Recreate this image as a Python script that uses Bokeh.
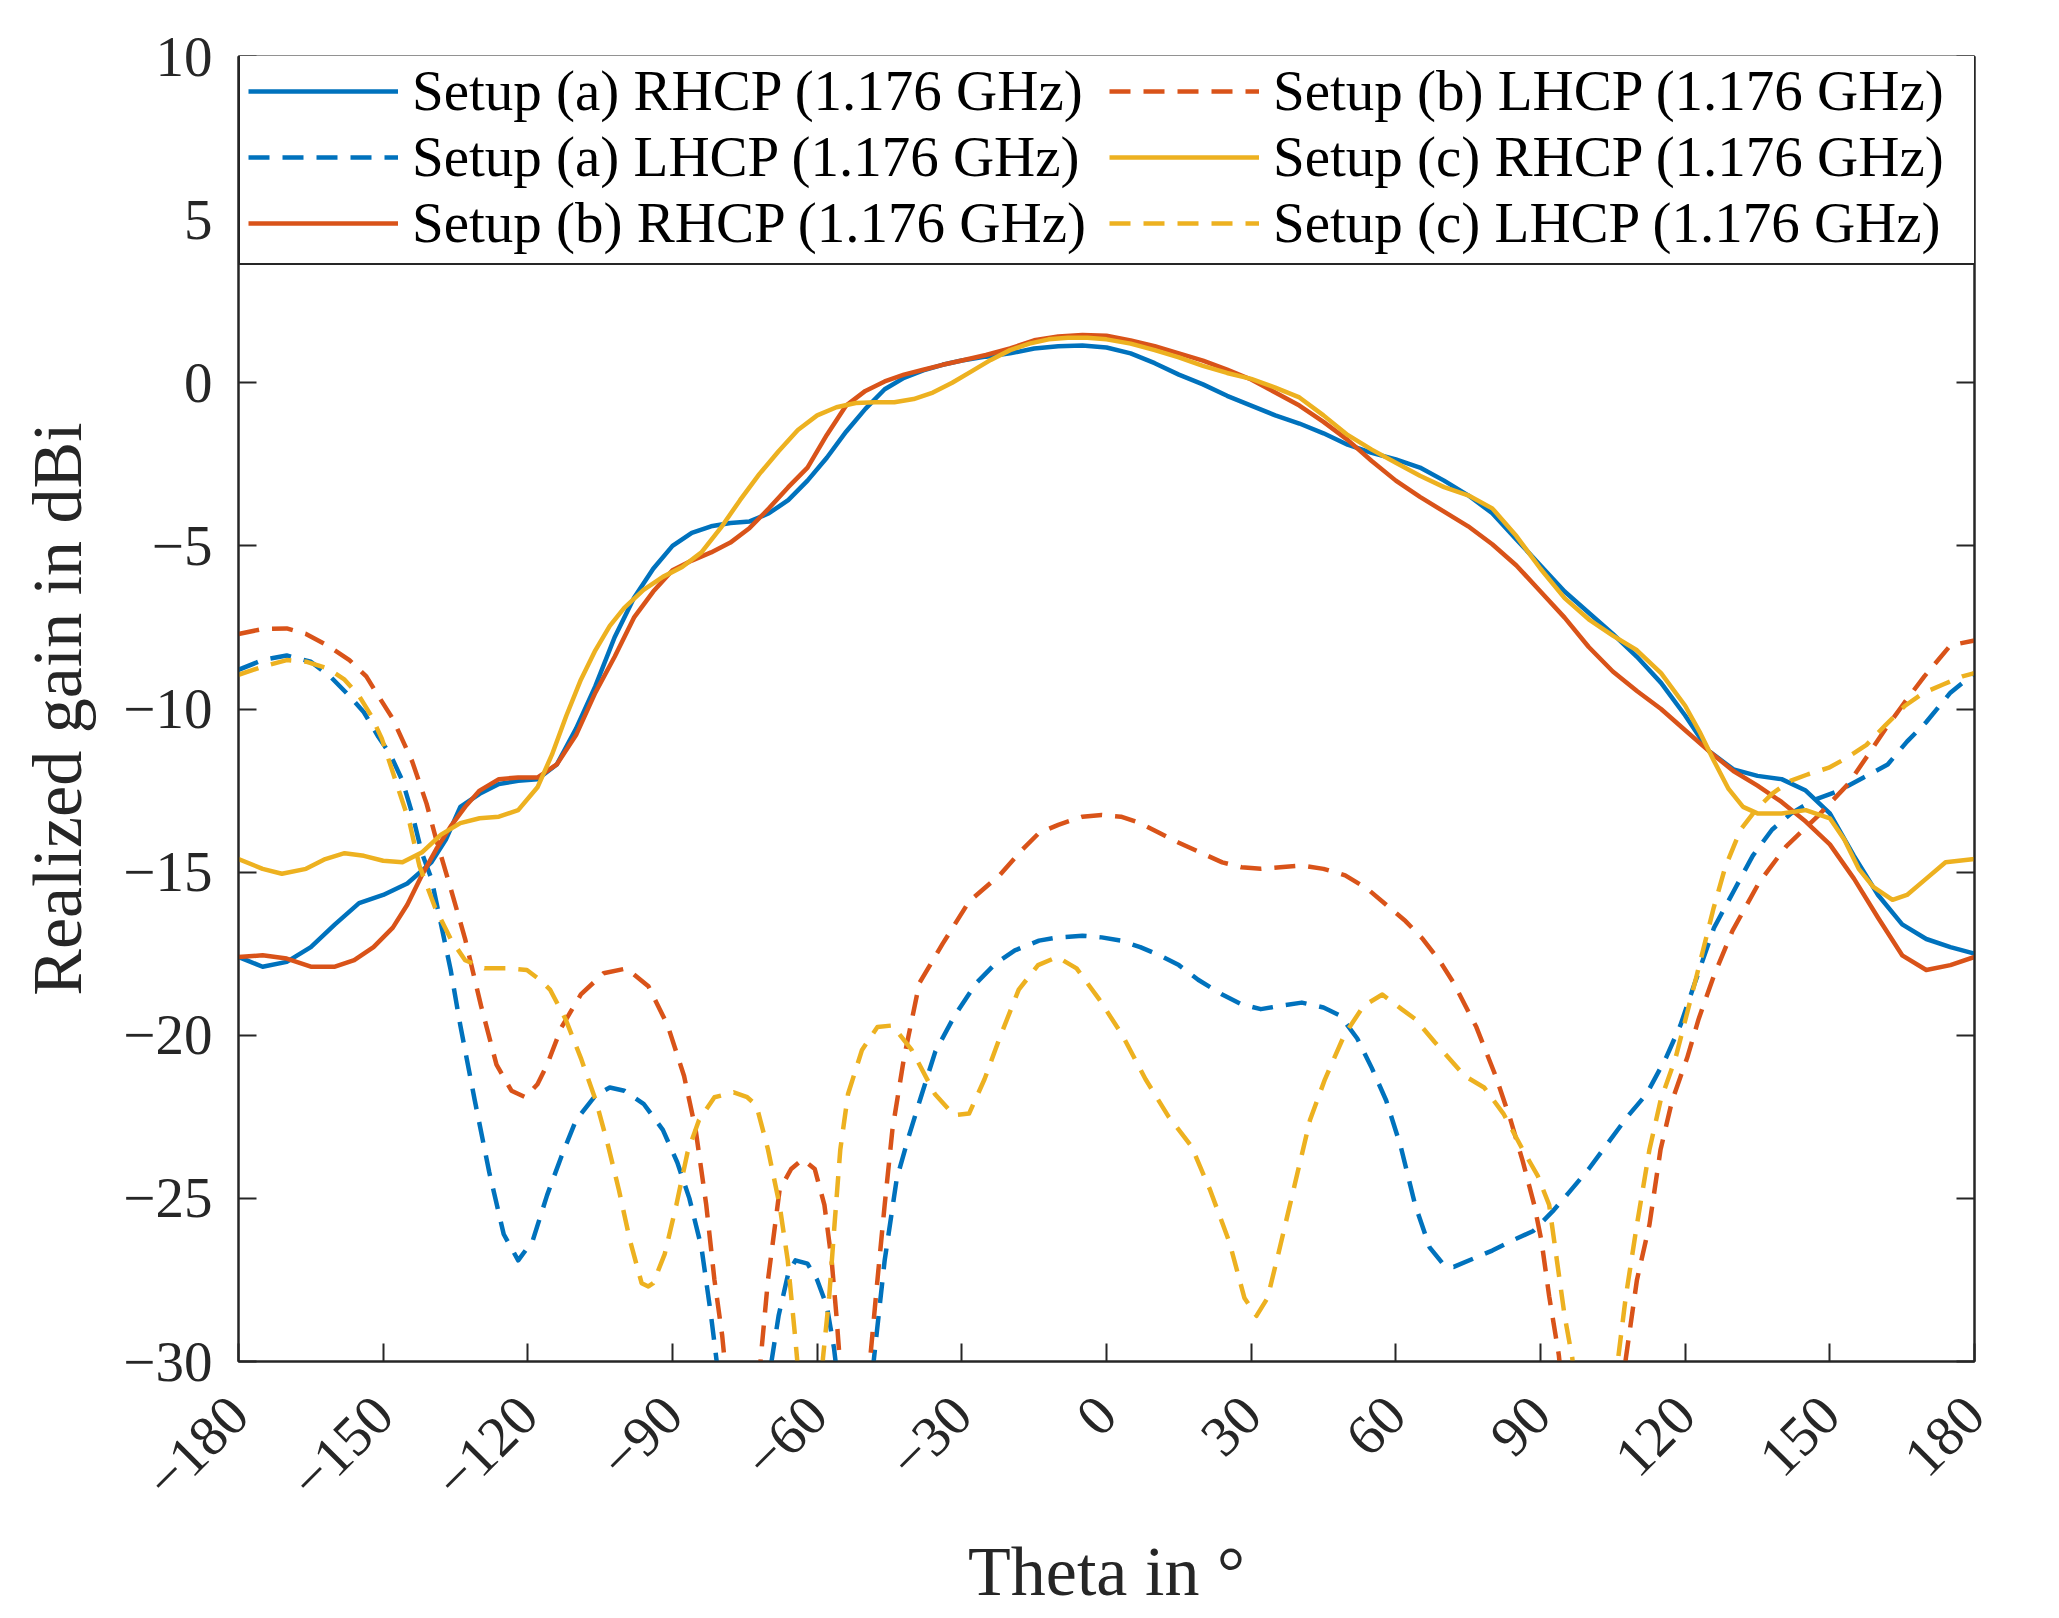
from math import pi
from bokeh.plotting import figure
from bokeh.models import (Legend, LegendItem, LinearAxis, FixedTicker, Range1d,
                          CustomLabelingPolicy)
from bokeh.embed import file_html
from bokeh.resources import INLINE

# ---------------- data ----------------
x_ticks = [-180, -150, -120, -90, -60, -30, 0, 30, 60, 90, 120, 150, 180]
x_tick_labels = ["\u2212180", "\u2212150", "\u2212120", "\u221290", "\u221260", "\u221230",
                 "0", "30", "60", "90", "120", "150", "180"]
y_ticks = [-30, -25, -20, -15, -10, -5, 0, 5, 10]
y_tick_labels = ["\u221230", "\u221225", "\u221220", "\u221215", "\u221210", "\u22125", "0", "5", "10"]

labels = [
    "Setup (a) RHCP (1.176 GHz)",
    "Setup (a) LHCP (1.176 GHz)",
    "Setup (b) RHCP (1.176 GHz)",
    "Setup (b) LHCP (1.176 GHz)",
    "Setup (c) RHCP (1.176 GHz)",
    "Setup (c) LHCP (1.176 GHz)",
]

theta_a_rhcp = [-180, -175, -170, -165, -160, -155, -150, -145, -140, -137, -134, -130, -126, -122,
                -118, -114, -110, -106, -102, -98, -94, -90, -86, -82, -78, -74, -70, -66, -62, -58,
                -54, -50, -46, -42, -38, -34, -30, -25, -20, -15, -10, -5, 0, 5, 10, 15, 20, 25, 30,
                35, 40, 45, 50, 55, 60, 65, 70, 75, 80, 85, 90, 95, 100, 105, 110, 115, 120, 125,
                130, 135, 140, 145, 150, 155, 160, 165, 170, 175, 180]
gain_a_rhcp = [-17.6, -17.9, -17.75, -17.3, -16.6, -15.95, -15.7, -15.35, -14.7, -14.0, -13.0, -12.6,
               -12.3, -12.2, -12.15, -11.7, -10.6, -9.3, -7.8, -6.6, -5.7, -5.0, -4.6, -4.4, -4.3,
               -4.25, -4.0, -3.6, -3.0, -2.3, -1.5, -0.8, -0.2, 0.15, 0.38, 0.55, 0.68, 0.8, 0.9,
               1.05, 1.12, 1.14, 1.08, 0.9, 0.6, 0.25, -0.05, -0.4, -0.7, -1.0, -1.25, -1.55, -1.9,
               -2.15, -2.35, -2.6, -3.0, -3.45, -4.0, -4.8, -5.6, -6.4, -7.05, -7.7, -8.4, -9.2,
               -10.2, -11.3, -11.85, -12.05, -12.15, -12.5, -13.2, -14.5, -15.7, -16.6, -17.05,
               -17.3, -17.5]

theta_a_lhcp = [-180, -175, -170, -165, -161, -157, -154, -151, -148.5, -146, -144, -142, -140, -138,
                -136, -134, -131, -128, -125, -122, -119, -116, -113, -110, -106, -103, -100, -96,
                -92, -89, -86.5, -84, -82, -80.5, -79, -74, -70, -68, -66, -64.5, -62, -60, -58,
                -56.5, -55, -52, -49, -48, -46, -43.5, -41, -38.5, -35.5, -31.5, -27, -23, -19, -14,
                -10, -5, -1, 3, 7, 11, 15, 19, 24, 28, 32, 36, 40.5, 45, 48.5, 52, 55, 58, 61, 64,
                67, 70, 72, 76, 80, 84, 88.5, 92.5, 96, 100, 104, 108, 112, 116, 119, 122, 126, 130,
                134, 138, 142, 146.5, 152, 157, 162, 166, 170, 175, 180]
gain_a_lhcp = [-8.8, -8.5, -8.36, -8.55, -9.0, -9.6, -10.1, -10.85, -11.4, -12.2, -13.2, -14.4, -15.2,
               -16.6, -18.0, -19.7, -22.0, -24.2, -26.1, -26.9, -26.3, -24.9, -23.7, -22.6, -21.85,
               -21.6, -21.7, -22.1, -22.9, -23.9, -25.0, -26.5, -28.6, -30.4, -33.0, -35.0, -30.5,
               -28.6, -27.3, -26.9, -27.0, -27.5, -28.3, -29.6, -31.5, -34.0, -31.0, -29.6, -26.9,
               -24.4, -23.1, -21.9, -20.5, -19.4, -18.4, -17.8, -17.4, -17.1, -17.0, -16.95, -17.0,
               -17.1, -17.3, -17.55, -17.85, -18.3, -18.75, -19.05, -19.2, -19.1, -19.0, -19.15,
               -19.4, -20.1, -21.0, -22.0, -23.4, -25.2, -26.5, -27.05, -27.1, -26.85, -26.6, -26.3,
               -26.0, -25.4, -24.8, -24.1, -23.3, -22.5, -21.8, -20.7, -19.7, -18.4, -16.7, -15.6,
               -14.5, -13.7, -13.2, -12.8, -12.5, -12.1, -11.7, -11.0, -10.4, -9.5, -8.9]

theta_b_rhcp = [-180, -175, -170, -165, -160, -156, -152, -148, -145, -142, -139, -136, -133, -130,
                -126, -122, -118, -114, -110, -106, -102, -98, -94, -90, -86, -82, -78, -74, -70,
                -66, -62, -58, -54, -50, -46, -42, -38, -34, -30, -25, -20, -15, -10, -5, 0, 5, 10,
                15, 20, 25, 30, 35, 40, 45, 50, 55, 60, 65, 70, 75, 80, 85, 90, 95, 100, 105, 110,
                115, 120, 125, 130, 135, 140, 145, 150, 155, 160, 165, 170, 175, 180]
gain_b_rhcp = [-17.6, -17.55, -17.65, -17.9, -17.9, -17.7, -17.3, -16.7, -16.0, -15.1, -14.3, -13.6,
               -13.0, -12.5, -12.15, -12.1, -12.1, -11.7, -10.8, -9.5, -8.4, -7.2, -6.4, -5.75,
               -5.45, -5.2, -4.9, -4.45, -3.85, -3.2, -2.6, -1.6, -0.7, -0.25, 0.04, 0.25, 0.4,
               0.55, 0.68, 0.85, 1.05, 1.3, 1.42, 1.46, 1.44, 1.3, 1.12, 0.9, 0.68, 0.4, 0.1, -0.3,
               -0.7, -1.2, -1.75, -2.4, -3.0, -3.5, -3.95, -4.4, -4.95, -5.6, -6.4, -7.2, -8.1,
               -8.85, -9.45, -10.0, -10.65, -11.3, -11.9, -12.35, -12.85, -13.45, -14.15, -15.2,
               -16.4, -17.55, -18.0, -17.85, -17.6]

theta_b_lhcp = [-180, -175, -170, -166, -161.5, -157, -153.5, -151, -148, -144, -141, -139, -136,
                -133, -129.7, -126.5, -123.4, -120.5, -118, -116, -113, -109, -104.3, -99.5, -95,
                -91, -87.6, -85.2, -83, -81.3, -79.7, -78.5, -76, -73, -71.7, -70.2, -67.8, -65.4,
                -63, -60.5, -58.5, -57, -56, -55.2, -53, -50, -49, -47.5, -46, -44.4, -42, -38.8,
                -34, -28.5, -22.2, -17.4, -14, -10, -5, -1, 3, 7, 11, 15, 19.5, 24, 28, 32, 36,
                40.5, 45, 49.5, 54, 58, 62, 65.6, 69, 72, 76.7, 80.7, 83.8, 86.3, 88.7, 90.2, 91.8,
                93.8, 95, 100, 105, 107.7, 110, 112.6, 114.9, 117.3, 120.4, 122.8, 125.9, 129.8,
                135.4, 141, 147.4, 153.8, 157.5, 161.6, 165.5, 169.6, 175, 180]
gain_b_lhcp = [-7.7, -7.55, -7.53, -7.7, -8.06, -8.5, -9.0, -9.6, -10.3, -11.6, -12.9, -14.0, -15.5,
               -17.05, -19.1, -20.9, -21.7, -21.9, -21.5, -20.9, -19.75, -18.75, -18.1, -17.95,
               -18.5, -19.7, -21.25, -22.9, -25.2, -27.5, -29.2, -31.0, -35.0, -33.0, -29.9, -27.5,
               -24.75, -24.1, -23.8, -24.1, -25.2, -26.9, -28.6, -30.2, -34.0, -33.0, -29.9, -27.5,
               -25.2, -22.9, -20.7, -18.4, -17.2, -15.9, -15.1, -14.3, -13.8, -13.55, -13.3, -13.25,
               -13.3, -13.5, -13.8, -14.1, -14.4, -14.7, -14.85, -14.9, -14.85, -14.8, -14.9,
               -15.1, -15.5, -16.0, -16.5, -17.05, -17.7, -18.4, -19.75, -21.25, -22.6, -23.85,
               -25.2, -26.3, -28.0, -29.8, -31.5, -36.0, -33.0, -29.9, -27.5, -25.8, -23.5, -22.0,
               -20.7, -19.5, -18.2, -16.8, -15.3, -14.2, -13.3, -12.3, -11.5, -10.6, -9.8, -9.0,
               -8.05, -7.9]

theta_c_rhcp = [-180, -175, -171, -166, -162, -158, -154, -150, -146, -142, -138, -134, -130, -126,
                -122, -118, -115, -112, -109, -106, -103, -100, -96, -92, -88, -84, -80, -76, -72,
                -68, -64, -60, -56, -52, -48, -44, -40, -36, -32, -28, -24, -20, -16, -12, -8, -4,
                0, 5, 10, 15, 20, 25, 30, 35, 40, 45, 50, 55, 60, 65, 70, 75, 80, 85, 90, 95, 100,
                105, 110, 115, 120, 123, 126, 129, 132, 135, 140, 145, 150, 153, 156, 159, 163, 166,
                170, 174, 180]
gain_c_rhcp = [-14.6, -14.9, -15.05, -14.9, -14.6, -14.42, -14.5, -14.65, -14.7, -14.4, -13.85, -13.5,
               -13.35, -13.3, -13.1, -12.4, -11.4, -10.2, -9.1, -8.2, -7.45, -6.9, -6.35, -5.95,
               -5.65, -5.2, -4.45, -3.6, -2.8, -2.1, -1.45, -1.0, -0.75, -0.62, -0.6, -0.6, -0.5,
               -0.3, 0.0, 0.35, 0.7, 1.0, 1.2, 1.33, 1.38, 1.38, 1.33, 1.2, 1.0, 0.78, 0.52, 0.3,
               0.12, -0.15, -0.45, -1.0, -1.6, -2.05, -2.45, -2.85, -3.2, -3.45, -3.85, -4.7, -5.7,
               -6.6, -7.25, -7.75, -8.2, -8.9, -9.9, -10.7, -11.6, -12.45, -13.0, -13.2, -13.2,
               -13.1, -13.35, -14.0, -14.9, -15.45, -15.85, -15.7, -15.2, -14.7, -14.6]

theta_c_lhcp = [-180, -175, -170, -166, -161.5, -158, -155, -152.5, -150.3, -147.2, -144.5, -142.5,
                -139.2, -136, -133, -129, -124, -120.2, -117.5, -115.4, -112.2, -109, -105.9,
                -103.5, -101.1, -98.8, -96.4, -95, -94, -91.6, -89.2, -86.9, -84.5, -81.3, -77.3,
                -74.5, -72.6, -70.2, -67.8, -66.1, -64.6, -63.5, -61, -59.5, -58.8, -57.5, -56.4,
                -55.2, -53.6, -50.7, -47.5, -44.4, -40.4, -35.6, -31.6, -28.5, -25.3, -22.2, -18.2,
                -14.2, -10.2, -6.2, -1.5, 3.3, 8.1, 12.9, 17.6, 21.5, 25.5, 28.6, 31.1, 33.4, 35.8,
                39, 42.2, 45.3, 49.3, 53.3, 57.2, 61.2, 64, 68, 74.3, 78.3, 82.3, 86.3, 89.4, 91.8,
                93.4, 95, 96.6, 98, 101, 104, 106.1, 107.7, 110, 112.6, 114.9, 118, 122, 125.9,
                128.3, 131.5, 134.6, 138, 141.8, 145.5, 149.8, 153.5, 157.6, 161.5, 165.6, 169.5,
                173.6, 177.5, 180]
gain_c_lhcp = [-8.95, -8.7, -8.5, -8.55, -8.76, -9.1, -9.6, -10.2, -10.9, -12.3, -13.5, -14.8, -16.1,
               -17.05, -17.7, -17.95, -17.95, -18.0, -18.3, -18.6, -19.5, -20.7, -22.0, -23.3,
               -24.75, -26.3, -27.6, -27.7, -27.6, -26.7, -25.2, -23.6, -22.6, -21.9, -21.75, -21.9,
               -22.15, -23.5, -25.2, -26.9, -29.2, -31.0, -34.0, -31.5, -29.9, -28.0, -25.8, -23.5,
               -21.8, -20.45, -19.75, -19.7, -20.45, -21.8, -22.45, -22.4, -21.35, -20.1, -18.6,
               -17.85, -17.6, -17.95, -18.9, -20.0, -21.35, -22.5, -23.4, -24.75, -26.35, -28.05,
               -28.6, -28.05, -26.6, -24.6, -22.6, -21.35, -20.0, -19.1, -18.75, -19.2, -19.5,
               -20.2, -21.25, -21.6, -22.4, -23.5, -24.3, -25.2, -26.9, -28.6, -29.9, -32.0, -35.0,
               -33.0, -29.9, -28.0, -25.8, -23.5, -22.0, -20.7, -18.4, -16.1, -14.85, -13.7, -13.1,
               -12.6, -12.2, -12.0, -11.8, -11.5, -11.1, -10.5, -9.9, -9.5, -9.24, -9.0, -8.9]

# ---------------- styling ----------------
BLUE, ORANGE, YELLOW = "#0072BD", "#D95319", "#EDB120"
AX = "#262626"
FONT = "Liberation Serif"
DASH = "21 13"
LW = 4.5

p = figure(frame_width=1736, frame_height=1305,
           x_range=Range1d(-180, 180), y_range=Range1d(-30, 10),
           output_backend="svg", toolbar_location=None,
           min_border_left=238, min_border_right=30,
           min_border_top=56, min_border_bottom=240)
p.grid.visible = False
p.background_fill_color = "white"
p.border_fill_color = "white"
p.outline_line_color = AX
p.outline_line_width = 2
p.outline_line_alpha = 1.0

series = [
    (theta_a_rhcp, gain_a_rhcp, BLUE, "solid"),
    (theta_a_lhcp, gain_a_lhcp, BLUE, DASH),
    (theta_b_rhcp, gain_b_rhcp, ORANGE, "solid"),
    (theta_b_lhcp, gain_b_lhcp, ORANGE, DASH),
    (theta_c_rhcp, gain_c_rhcp, YELLOW, "solid"),
    (theta_c_lhcp, gain_c_lhcp, YELLOW, DASH),
]
renderers = []
for xs, ys, col, dash in series:
    r = p.line(xs, ys, line_color=col, line_width=LW, line_dash=dash, line_join="round")
    renderers.append(r)

# x axis
xa = p.xaxis[0]
xa.ticker = FixedTicker(ticks=x_ticks, minor_ticks=[])
xa.major_label_overrides = {t: l for t, l in zip(x_ticks, x_tick_labels)}
xa.major_label_orientation = pi / 4
xa.major_tick_in = 18
xa.major_tick_out = 0
xa.minor_tick_in = 0
xa.minor_tick_out = 0
xa.axis_line_color = AX
xa.axis_line_width = 2
xa.major_tick_line_color = AX
xa.major_tick_line_width = 2
xa.major_label_text_font = FONT
xa.major_label_text_font_size = "57px"
xa.major_label_text_color = AX
xa.major_label_standoff = 44
xa.axis_label = "Theta in \u00b0"
xa.axis_label_text_font = FONT
xa.axis_label_text_font_size = "70px"
xa.axis_label_text_font_style = "normal"
xa.axis_label_text_color = AX
xa.axis_label_standoff = 14

# left y axis
ya = p.yaxis[0]
ya.ticker = FixedTicker(ticks=y_ticks, minor_ticks=[])
ya.major_label_overrides = {t: l for t, l in zip(y_ticks, y_tick_labels)}
ya.major_tick_in = 18
ya.major_tick_out = 0
ya.minor_tick_in = 0
ya.minor_tick_out = 0
ya.axis_line_color = AX
ya.axis_line_width = 2
ya.major_tick_line_color = AX
ya.major_tick_line_width = 2
ya.major_label_text_font = FONT
ya.major_label_text_font_size = "57px"
ya.major_label_text_color = AX
ya.major_label_standoff = 26
ya.axis_label = "Realized gain in dBi"
ya.axis_label_text_font = FONT
ya.axis_label_text_font_size = "70px"
ya.axis_label_text_font_style = "normal"
ya.axis_label_text_color = AX
ya.axis_label_standoff = 24

# right y axis: tick marks only (box style); labels suppressed by a labeling policy
NO_LABELS_JS = """
try { return new indices.constructor(indices.size) } catch (e) {}
try { for (const i of Array.from(indices)) indices.unset(i) } catch (e) {}
return indices
"""
ra = LinearAxis(ticker=FixedTicker(ticks=y_ticks, minor_ticks=[]),
                major_tick_in=18, major_tick_out=0, minor_tick_in=0, minor_tick_out=0,
                axis_line_color=AX, axis_line_width=2,
                major_tick_line_color=AX, major_tick_line_width=2,
                major_label_policy=CustomLabelingPolicy(code=NO_LABELS_JS),
                major_label_text_font=FONT, major_label_text_font_size="57px",
                major_label_text_color=AX, major_label_standoff=0)
p.add_layout(ra, "right")

items = [LegendItem(label=lab, renderers=[r]) for lab, r in zip(labels, renderers)]
legend = Legend(items=items, nrows=3, location=(0, 1096), margin=0,
                padding=8, spacing=1,
                glyph_width=150, glyph_height=60, label_standoff=14,
                label_width=696,
                label_text_font=FONT, label_text_font_size="57px", label_text_color="black",
                border_line_color=AX, border_line_width=2, border_line_alpha=1.0,
                background_fill_color="white", background_fill_alpha=1.0)
p.add_layout(legend)

open("out.html", "w").write(file_html(p, INLINE))
